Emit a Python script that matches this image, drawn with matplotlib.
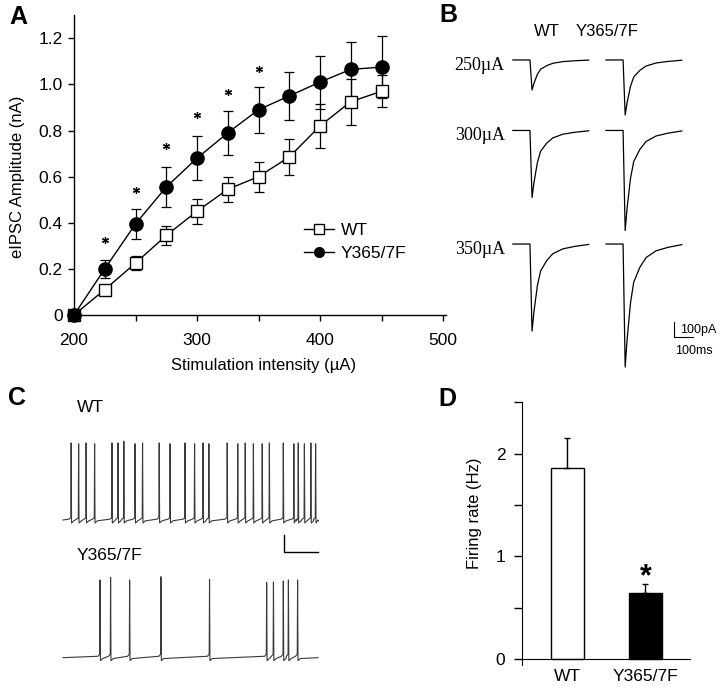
import numpy as np
import matplotlib
matplotlib.use('Agg')
import matplotlib.pyplot as plt
from matplotlib.lines import Line2D

plt.rcParams['font.family'] = ['Liberation Sans', 'DejaVu Sans']

# ---------------- Panel A data ----------------
intensity = [200, 225, 250, 275, 300, 325, 350, 375, 400, 425, 450]
wt_amp = [0, 0.11, 0.225, 0.345, 0.45, 0.545, 0.60, 0.685, 0.82, 0.925, 0.97]
wt_err = [0, 0.01, 0.03, 0.04, 0.055, 0.055, 0.065, 0.08, 0.095, 0.10, 0.07]
mut_amp = [0, 0.20, 0.395, 0.555, 0.68, 0.79, 0.89, 0.95, 1.01, 1.065, 1.075]
mut_err = [0, 0.04, 0.065, 0.085, 0.095, 0.095, 0.10, 0.105, 0.115, 0.12, 0.135]
star_x = [225, 250, 275, 300, 325, 350]
star_y = [0.325, 0.54, 0.733, 0.867, 0.966, 1.065]

# ---------------- Panel B data ----------------
ipsc_rows = ['250\u00b5A', '300\u00b5A', '350\u00b5A']
ipsc_wt = [200, 447, 580]      # peak amplitude, pA
ipsc_mut = [367, 667, 820]     # peak amplitude, pA
decay_t = [0, 10, 28, 45, 77, 110, 163, 225, 298]           # ms after peak
decay_frac = [1, 0.78, 0.48, 0.31, 0.19, 0.11, 0.055, 0.027, 0.005]

# ---------------- Panel C data ----------------
wt_spike_t = [0.24, 0.46, 0.68, 0.93, 1.44, 1.62, 1.79, 2.12, 2.34, 2.83, 3.15,
              3.59, 3.87, 4.12, 4.29, 4.83, 5.14, 5.36, 5.60, 5.86, 6.07, 6.48,
              6.79, 6.92, 7.10, 7.29, 7.43]
wt_spike_h = [89, 88, 89, 88, 89, 89, 91, 88, 89, 89, 88,
              89, 88, 89, 88, 89, 88, 89, 88, 88, 89, 89,
              88, 89, 88, 89, 88]
mut_spike_t = [1.09, 1.40, 1.96, 2.88, 4.31, 5.99, 6.19, 6.48, 6.63, 6.90]
mut_spike_h = [89.7, 92.4, 89.7, 93.5, 90.4, 86.6, 87.4, 88.6, 89.7, 89.7]

# ---------------- Panel D data ----------------
groups = ['WT', 'Y365/7F']
rate = [1.86, 0.643]
rate_err = [0.29, 0.087]

W, H = 720, 690
fig = plt.figure(figsize=(W / 100, H / 100), dpi=100)


def rect(l, t, r, b):
    return [l / W, 1 - b / H, (r - l) / W, (b - t) / H]


FS = 11.5

# ================= Panel A =================
axA = fig.add_axes(rect(74, 15.2, 445.5, 315))
axA.errorbar(intensity, wt_amp, yerr=wt_err, fmt='none', ecolor='black',
             elinewidth=0.9, capsize=3.5, capthick=0.9, zorder=2)
axA.errorbar(intensity, mut_amp, yerr=mut_err, fmt='none', ecolor='black',
             elinewidth=0.9, capsize=3.5, capthick=0.9, zorder=2)
axA.plot(intensity, wt_amp, color='black', lw=1.0, marker='s', ms=9,
         mfc='white', mec='black', mew=1.0, zorder=3, clip_on=False)
axA.plot(intensity, mut_amp, color='black', lw=1.0, marker='o', ms=9.5,
         mfc='black', mec='black', zorder=4, clip_on=False)
axA.plot(star_x, star_y, ls='none', marker=(6, 2, 0), ms=5, mew=0.9,
         color='black')
axA.set_xlim(200, 502)
axA.set_ylim(0, 1.3)
axA.spines['top'].set_visible(False)
axA.spines['right'].set_visible(False)
axA.spines['left'].set_linewidth(1.0)
axA.spines['bottom'].set_linewidth(1.0)
axA.set_xticks([200, 300, 400, 500])
axA.set_xticks([250, 350, 450], minor=True)
axA.set_yticks([0, 0.2, 0.4, 0.6, 0.8, 1.0, 1.2])
axA.set_yticklabels(['0', '0.2', '0.4', '0.6', '0.8', '1.0', '1.2'])
axA.tick_params(axis='x', which='both', direction='out', length=4, width=1,
                pad=9, labelsize=FS + 1)
axA.tick_params(axis='y', which='both', direction='out', length=4, width=1,
                pad=4, labelsize=FS + 1)
axA.set_xlabel('Stimulation intensity (\u00b5A)', fontsize=FS + 0.5)
axA.xaxis.set_label_coords(0.509, -0.167)
axA.xaxis.label.set_va('center')
axA.set_ylabel('eIPSC Amplitude (nA)', fontsize=FS + 0.5)
axA.yaxis.set_label_coords(-0.151, 0.46)
axA.yaxis.label.set_va('center')
handles = [Line2D([], [], color='black', lw=1.0, marker='s', ms=7,
                  mfc='white', mec='black'),
           Line2D([], [], color='black', lw=1.0, marker='o', ms=7,
                  mfc='black', mec='black')]
axA.legend(handles, ['WT', 'Y365/7F'], loc='upper left',
           bbox_to_anchor=(0.62, 0.308), frameon=False, fontsize=FS + 1,
           handlelength=1.7, handletextpad=0.4, labelspacing=0.45,
           borderpad=0, borderaxespad=0)

# ================= Panel B =================
axB = fig.add_axes(rect(445, 40, 720, 390))
axB.set_xlim(-447, 1000)
axB.set_ylim(-2200, 133)
axB.axis('off')
row_offsets = [0, -470, -1227]
col_offsets = [0, 490]
rise = 11
for r, off in enumerate(row_offsets):
    for c, amps in enumerate([ipsc_wt, ipsc_mut]):
        A = amps[r]
        t = [-90, 0] + [rise + d for d in decay_t]
        y = [0, 0] + [-A * f for f in decay_frac]
        t = np.array(t) + col_offsets[c]
        y = np.array(y) + off
        axB.plot(t, y, color='black', lw=0.9, solid_joinstyle='round')
    axB.text(-132, off - 35, ipsc_rows[r], ha='right', va='center',
             fontsize=13, family=['Liberation Serif', 'DejaVu Serif'])
# scale bar 100 pA / 100 ms
axB.plot([758, 758, 858], [-1747, -1847, -1847], color='black', lw=0.8)
axB.text(790, -1800, '100pA', ha='left', va='center', fontsize=9)
axB.text(763, -1940, '100ms', ha='left', va='center', fontsize=9)
fig.text(547 / W, 1 - 32 / H, 'WT', ha='center', va='center', fontsize=FS + 0.5)
fig.text(607 / W, 1 - 32 / H, 'Y365/7F', ha='center', va='center',
         fontsize=FS + 0.5)

# ================= Panel C =================
axC = fig.add_axes(rect(55, 425, 325, 680))
axC.set_xlim(-0.235, 7.706)
axC.set_ylim(-184.8, 109.7)
axC.axis('off')


def spike_trace(times, heights, t_end, ramp):
    pts = [(0.0, 0.0)]
    for ts, h in zip(times, heights):
        pts += [(ts - 0.06, ramp * 0.4), (ts - 0.01, ramp), (ts, h),
                (ts + 0.012, -3.5), (ts + 0.08, -1.0)]
    pts.append((t_end, 0.0))
    pts.sort(key=lambda p: p[0])
    return np.array(pts)


wt_tr = spike_trace(wt_spike_t, wt_spike_h, 7.5, 2.5)
mut_tr = spike_trace(mut_spike_t, mut_spike_h, 7.5, 4.0)
axC.plot(wt_tr[:, 0], wt_tr[:, 1], color='#3a3a3a', lw=0.8)
axC.plot(mut_tr[:, 0], mut_tr[:, 1] - 159, color='#3a3a3a', lw=0.8)
axC.plot([6.51, 6.51, 7.51], [-17.3, -37.3, -37.3], color='black', lw=1.0)
fig.text(77 / W, 1 - 407 / H, 'WT', ha='left', va='center', fontsize=FS + 1)
fig.text(77 / W, 1 - 556 / H, 'Y365/7F', ha='left', va='center',
         fontsize=FS + 1)

# ================= Panel D =================
axD = fig.add_axes(rect(522, 402.25, 690, 665.2))
xpos = [0, 1]
axD.bar(xpos, rate, width=0.42, color=['white', 'black'], edgecolor='black',
        linewidth=1.0, zorder=2)
axD.errorbar(xpos, rate, yerr=[[0, 0], rate_err], fmt='none', ecolor='black',
             elinewidth=1.0, capsize=2.5, capthick=1.0, zorder=3)
axD.text(1, 0.80, '*', ha='center', va='center', fontsize=22,
         fontweight='bold')
axD.set_xlim(-0.583, 1.571)
axD.set_ylim(-0.06, 2.5)
axD.spines['top'].set_visible(False)
axD.spines['right'].set_visible(False)
axD.spines['bottom'].set_position(('data', 0))
axD.set_yticks([0, 1, 2])
axD.set_yticks([0.5, 1.5, 2.5], minor=True)
axD.tick_params(axis='y', which='both', direction='out', length=6, width=1,
                pad=6, labelsize=FS + 1)
axD.set_xticks(xpos)
axD.set_xticklabels(groups)
axD.tick_params(axis='x', length=0, pad=7, labelsize=FS + 1)
axD.set_ylabel('Firing rate (Hz)', fontsize=FS + 0.5)
axD.yaxis.set_label_coords(-0.28, 0.577)
axD.yaxis.label.set_va('center')

# Panel letters
for lbl, x, y in [('A', 18, 17), ('B', 448, 15), ('C', 17, 398), ('D', 447, 399)]:
    fig.text(x / W, 1 - y / H, lbl, ha='center', va='center', fontsize=18,
             fontweight='bold')

fig.savefig('out.png', dpi=100, facecolor='white')
